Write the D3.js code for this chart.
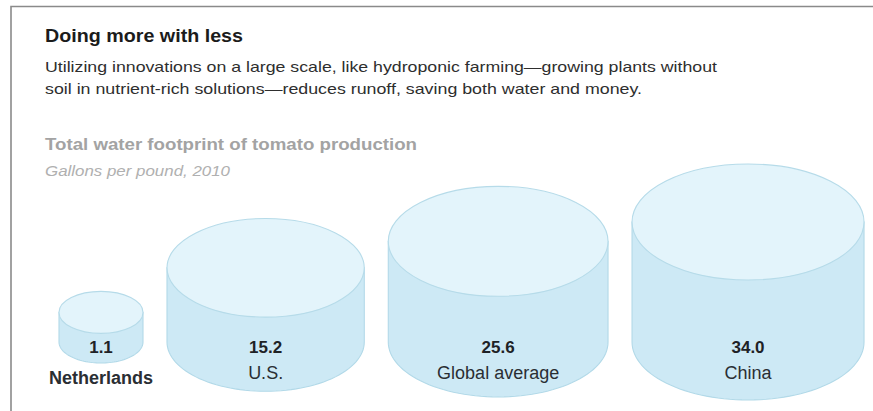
<!DOCTYPE html>
<html>
<head>
<meta charset="utf-8">
<script src="https://cdn.jsdelivr.net/npm/d3@7"></script>
<style>
  html, body { margin: 0; padding: 0; background: #fff; }
  svg { display: block; font-family: "Liberation Sans", Arial, sans-serif; }
</style>
</head>
<body>
<svg id="chart" width="873" height="411"></svg>
<script>
// ---- data ----
const categories = ["Netherlands", "U.S.", "Global average", "China"];
const values = [1.1, 15.2, 25.6, 34.0];
const valueLabels = ["1.1", "15.2", "25.6", "34.0"];
const highlighted = ["Netherlands"];

const title = "Doing more with less";
const subtitleLines = [
  "Utilizing innovations on a large scale, like hydroponic farming\u2014growing plants without",
  "soil in nutrient-rich solutions\u2014reduces runoff, saving both water and money."
];
const chartTitle = "Total water footprint of tomato production";
const unitsNote = "Gallons per pound, 2010";

// ---- layout ----
const W = 873, H = 411;
const svg = d3.select("#chart");

// frame
svg.append("path")
  .attr("d", d3.line()([[11, H], [11, 6.5], [W, 6.5]]))
  .attr("fill", "none").attr("stroke", "#8a8a8a").attr("stroke-width", 1.6);

// headings
svg.append("text").attr("x", 45).attr("y", 42)
  .attr("font-size", 18).attr("font-weight", 700).attr("fill", "#1b1b1b")
  .attr("textLength", 198).attr("lengthAdjust", "spacingAndGlyphs")
  .text(title);

const subWidths = [672, 597];
svg.selectAll("text.sub").data(subtitleLines).join("text")
  .attr("class", "sub")
  .attr("x", 45).attr("y", (d, i) => 72 + i * 22)
  .attr("font-size", 15).attr("fill", "#2e2e2e")
  .attr("textLength", (d, i) => subWidths[i]).attr("lengthAdjust", "spacingAndGlyphs")
  .text(d => d);

svg.append("text").attr("x", 45).attr("y", 150)
  .attr("font-size", 17).attr("font-weight", 700).attr("fill", "#a3a3a3")
  .attr("textLength", 372).attr("lengthAdjust", "spacingAndGlyphs")
  .text(chartTitle);

svg.append("text").attr("x", 45).attr("y", 176)
  .attr("font-size", 14.5).attr("font-style", "italic").attr("fill", "#b0b0b0")
  .attr("textLength", 185).attr("lengthAdjust", "spacingAndGlyphs")
  .text(unitsNote);

// ---- scales ----
// cylinder radius grows with log of value; height chosen so volume ~ value
const rScale = d3.scaleLog().domain(d3.extent(values)).range([42, 116]);
const maxV = d3.max(values);
const maxR = rScale(maxV);
const maxH = 120;
const k = maxH * maxR * maxR / maxV;
const hOf = v => k * v / (rScale(v) * rScale(v));
const ryRatio = 0.5;

const baseY = 342;       // center of bottom ellipse
const startX = 59, gap = 24;
const radii = values.map(v => rScale(v));
const lefts = radii.map((r, i) => startX + d3.sum(radii.slice(0, i), rr => 2 * rr) + i * gap);

const data = categories.map((c, i) => ({
  name: c, value: values[i], label: valueLabels[i],
  r: radii[i], ry: radii[i] * ryRatio,
  cx: lefts[i] + radii[i], h: hOf(values[i]),
  hi: highlighted.includes(c)
}));

const g = svg.append("g");
const cyl = g.selectAll("g.cyl").data(data).join("g").attr("class", "cyl");

// side body
cyl.append("path")
  .attr("d", d => {
    const p = d3.path();
    const top = baseY - d.h;
    p.moveTo(d.cx - d.r, top);
    p.lineTo(d.cx - d.r, baseY);
    const steps = 60;
    for (let s = 0; s <= steps; s++) {
      const t = Math.PI - Math.PI * s / steps;
      p.lineTo(d.cx + d.r * Math.cos(t), baseY + d.ry * Math.sin(t));
    }
    p.lineTo(d.cx + d.r, top);
    p.closePath();
    return p.toString();
  })
  .attr("fill", "#cde9f5").attr("stroke", "#b2d9e8").attr("stroke-width", 1.1);

// top ellipse
cyl.append("ellipse")
  .attr("cx", d => d.cx).attr("cy", d => baseY - d.h)
  .attr("rx", d => d.r).attr("ry", d => d.ry)
  .attr("fill", "#e3f4fb").attr("stroke", "#b6dbe9").attr("stroke-width", 1.1);

// labels
cyl.append("text")
  .attr("x", d => d.cx).attr("y", 353)
  .attr("text-anchor", "middle").attr("font-size", 17).attr("font-weight", 700)
  .attr("fill", "#1e2226")
  .text(d => d.label);

cyl.append("text")
  .attr("x", d => d.cx).attr("y", d => d.hi ? 384 : 379)
  .attr("text-anchor", "middle").attr("font-size", 18)
  .attr("font-weight", d => d.hi ? 700 : 400)
  .attr("fill", "#2a2e33")
  .text(d => d.name);
</script>
</body>
</html>
